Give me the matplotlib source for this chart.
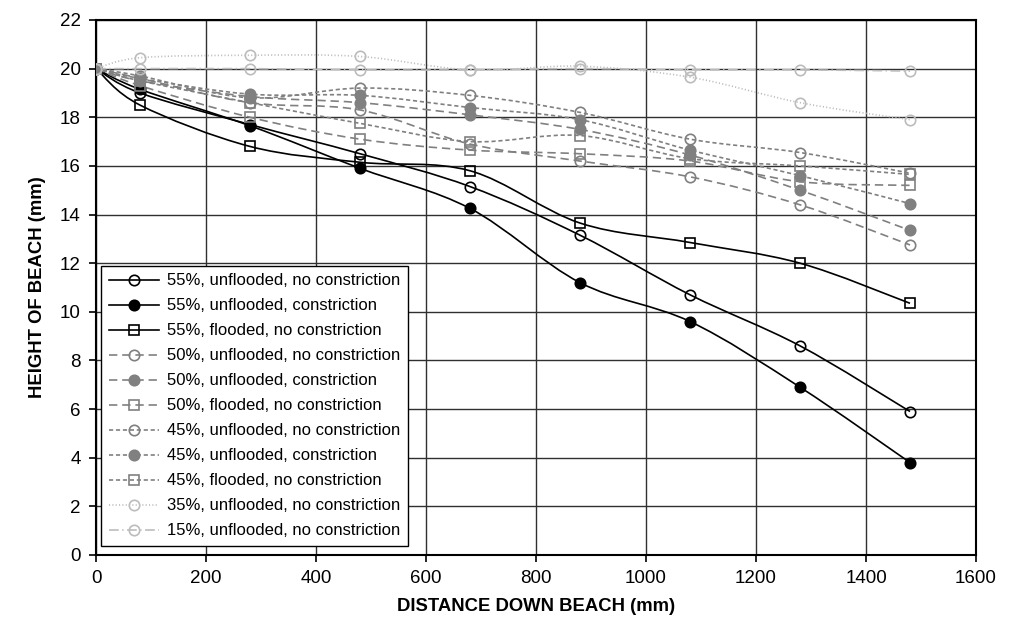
import matplotlib
matplotlib.use('Agg')
import matplotlib.pyplot as plt
from matplotlib.path import Path
from matplotlib.patches import PathPatch
from matplotlib.lines import Line2D
import numpy as np

plt.rcParams['font.family'] = ['Liberation Sans', 'DejaVu Sans']
plt.rcParams['lines.scale_dashes'] = False

# distance down beach (mm)
distance = [0, 80, 280, 480, 680, 880, 1080, 1280, 1480]

# height of beach (mm) for each run
h55_unfl_nocon = [20, 19.0, 17.7, 16.5, 15.15, 13.15, 10.7, 8.6, 5.9]
h55_unfl_con = [20, 19.15, 17.65, 15.9, 14.25, 11.2, 9.6, 6.9, 3.8]
h55_fl_nocon = [20, 18.5, 16.8, 16.15, 15.8, 13.65, 12.85, 12.0, 10.35]
h50_unfl_nocon = [20, 19.6, 18.6, 18.3, 16.9, 16.2, 15.55, 14.4, 12.75]
h50_unfl_con = [20, 19.5, 18.85, 18.6, 18.1, 17.5, 16.45, 15.0, 13.35]
h50_fl_nocon = [20, 19.3, 18.0, 17.1, 16.65, 16.5, 16.2, 15.35, 15.2]
h45_unfl_nocon = [20, 19.7, 18.8, 19.2, 18.9, 18.2, 17.1, 16.55, 15.7]
h45_unfl_con = [20, 19.6, 18.95, 18.9, 18.4, 17.9, 16.65, 15.6, 14.45]
h45_fl_nocon = [20, 19.5, 18.6, 17.75, 17.0, 17.25, 16.3, 16.0, 15.65]
h35_unfl_nocon = [20, 20.45, 20.55, 20.5, 19.95, 20.1, 19.65, 18.6, 17.9]
h15_unfl_nocon = [20, 20.0, 20.0, 19.95, 19.95, 20.0, 19.95, 19.95, 19.9]

black = 'black'
gray = '#808080'
light = '#bcbcbc'
long_dash = (0, (6, 3.5))
short_dash = (0, (3, 2))
dotted = (0, (0.8, 1.6))
dash_dot = (0, (7, 2.5, 1, 2.5))

series = [
    ('55%, unflooded, no constriction', h55_unfl_nocon, black, '-', 'o', False),
    ('55%, unflooded, constriction', h55_unfl_con, black, '-', 'o', True),
    ('55%, flooded, no constriction', h55_fl_nocon, black, '-', 's', False),
    ('50%, unflooded, no constriction', h50_unfl_nocon, gray, long_dash, 'o', False),
    ('50%, unflooded, constriction', h50_unfl_con, gray, long_dash, 'o', True),
    ('50%, flooded, no constriction', h50_fl_nocon, gray, long_dash, 's', False),
    ('45%, unflooded, no constriction', h45_unfl_nocon, gray, short_dash, 'o', False),
    ('45%, unflooded, constriction', h45_unfl_con, gray, short_dash, 'o', True),
    ('45%, flooded, no constriction', h45_fl_nocon, gray, short_dash, 's', False),
    ('35%, unflooded, no constriction', h35_unfl_nocon, light, dotted, 'o', False),
    ('15%, unflooded, no constriction', h15_unfl_nocon, light, dash_dot, 'o', False),
]


def smooth_path(x, y):
    # Catmull-Rom curve through the points, as cubic bezier segments
    p = np.column_stack([x, y]).astype(float)
    ext = np.vstack([p[0], p, p[-1]])
    verts = [p[0]]
    codes = [Path.MOVETO]
    for i in range(1, len(ext) - 2):
        c1 = ext[i] + (ext[i + 1] - ext[i - 1]) / 6.0
        c2 = ext[i + 1] - (ext[i + 2] - ext[i]) / 6.0
        verts += [c1, c2, ext[i + 1]]
        codes += [Path.CURVE4] * 3
    return Path(verts, codes)


fig = plt.figure(figsize=(10.11, 6.41), dpi=100)
ax = fig.add_axes([0.095, 0.1342, 0.8704, 0.8346])

handles = []
for label, h, color, ls, marker, filled in series:
    patch = PathPatch(smooth_path(distance, h), facecolor='none', edgecolor=color,
                      linewidth=1.2, linestyle=ls, zorder=3)
    ax.add_patch(patch)
    mfc = color if filled else 'none'
    ax.plot(distance, h, linestyle='none', marker=marker, markersize=7.5,
            markerfacecolor=mfc, markeredgecolor=color, markeredgewidth=1.2, zorder=4)
    handles.append(Line2D([], [], color=color, linestyle=ls, linewidth=1.2, marker=marker,
                          markersize=7.5, markerfacecolor=mfc, markeredgecolor=color,
                          markeredgewidth=1.2, label=label))

ax.set_xlim(0, 1600)
ax.set_ylim(0, 22)
ax.set_xticks(np.arange(0, 1601, 200))
ax.set_yticks(np.arange(0, 23, 2))
ax.grid(True, color='#303030', linewidth=1.0)
ax.set_axisbelow(True)
for s in ax.spines.values():
    s.set_color('black')
    s.set_linewidth(1.5)
ax.tick_params(axis='both', direction='out', length=5, width=1.2, colors='black',
               labelsize=13.5, pad=6)

ax.set_xlabel('DISTANCE DOWN BEACH (mm)', fontsize=13.3, fontweight='bold', labelpad=8)
ax.set_ylabel('HEIGHT OF BEACH (mm)', fontsize=13.3, fontweight='bold', labelpad=10)

leg = ax.legend(handles=handles, loc='lower left', bbox_to_anchor=(0.006, 0.017),
                fontsize=12, frameon=True, fancybox=False, edgecolor='black',
                framealpha=1, handlelength=3.0, handletextpad=0.5, labelspacing=0.6,
                borderpad=0.45, borderaxespad=0)
leg.get_frame().set_linewidth(1.0)
leg.set_zorder(5)

fig.savefig('out.png', dpi=100, facecolor='white')
